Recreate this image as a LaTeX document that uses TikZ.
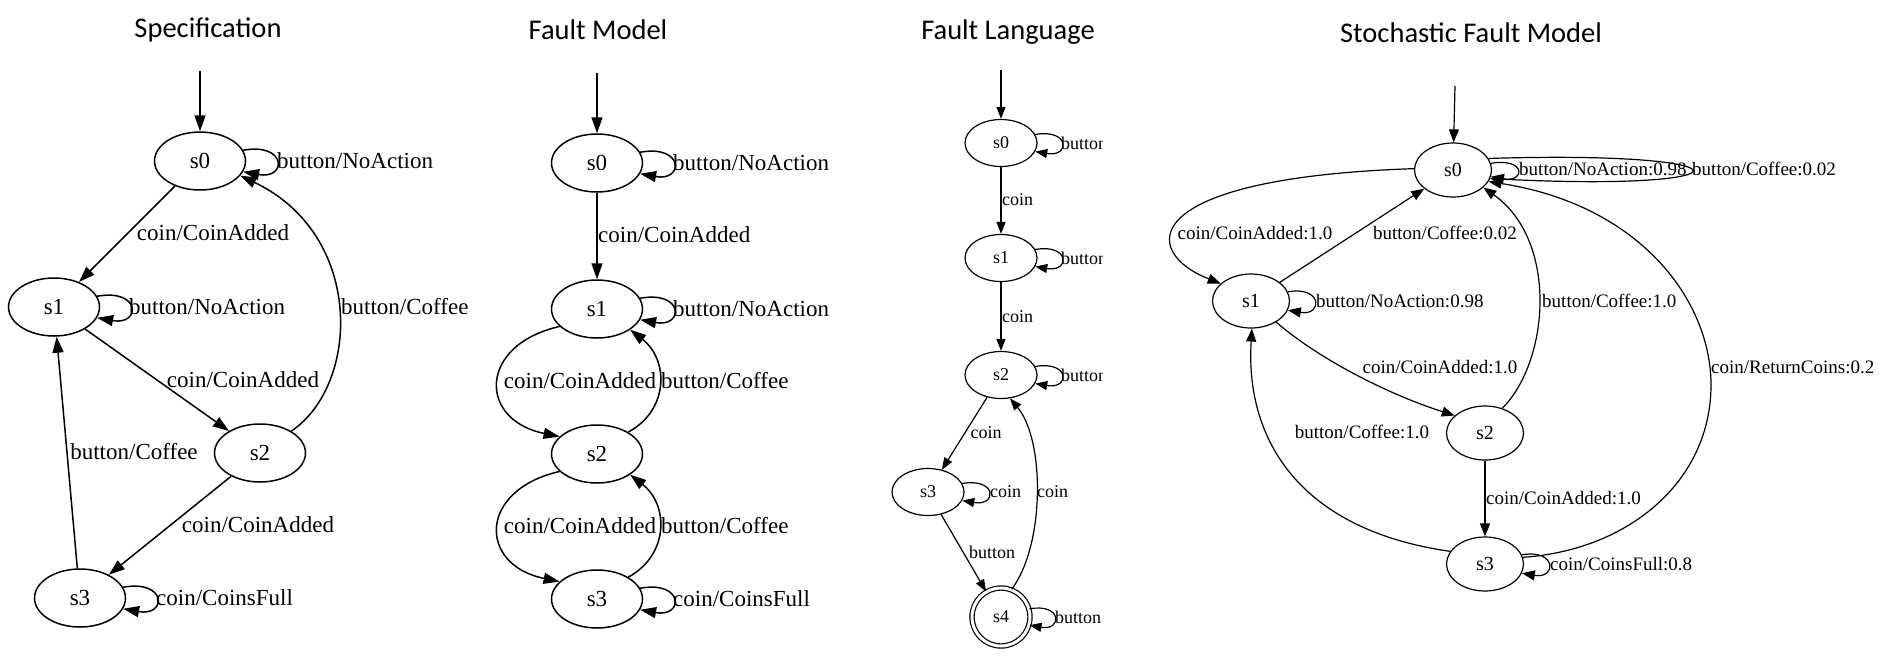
\documentclass[tikz,border=0pt]{standalone}
\usepackage{fontspec}
\setmainfont{Liberation Serif}
\newfontfamily\titlefont{Carlito}
\usetikzlibrary{arrows.meta,shapes.geometric}
\begin{document}
\begin{tikzpicture}[x=1pt,y=-1pt,
  title/.style={font=\titlefont\fontsize{28.5}{32}\selectfont,inner sep=0pt},
  stA/.style={draw,ellipse,line width=1.5pt,minimum width=91pt,minimum height=58pt,inner sep=0pt,font=\fontsize{23}{26}\selectfont},
  lblA/.style={inner sep=0pt,font=\fontsize{23}{26}\selectfont},
  eA/.style={line width=1.5pt,-{Triangle[length=16pt,width=11pt]}},
  stC/.style={draw,ellipse,line width=1.2pt,minimum width=72pt,minimum height=47pt,inner sep=0pt,font=\fontsize{18}{20}\selectfont},
  lblC/.style={inner sep=0pt,font=\fontsize{18}{20}\selectfont},
  eC/.style={line width=1.2pt,-{Triangle[length=12pt,width=9pt]}},
  stD/.style={draw,ellipse,line width=1.2pt,minimum width=77pt,minimum height=54pt,inner sep=0pt,font=\fontsize{20}{22}\selectfont},
  lblD/.style={inner sep=0pt,font=\fontsize{19}{21}\selectfont},
  eD/.style={line width=1.2pt,-{Triangle[length=13pt,width=10pt]}},
  pl/.style={line width=1.2pt}
]
\useasboundingbox (0,0) rectangle (1879,665);

% ================= Specification =================
\node[title] (a-t) at (208,30) {Specification};
\coordinate (a-i) at (200,71);
\node[stA] (a-s0) at (200,161) {s0};
\node[stA] (a-s1) at (54,307) {s1};
\node[stA] (a-s2) at (260,453) {s2};
\node[stA] (a-s3) at (80,598) {s3};
\draw[eA] (a-i) -- (a-s0);
\draw[eA] (a-s0.14) .. controls +(44,-8) and +(44,8) .. (a-s0.-14);
\draw[eA] (a-s0) -- (a-s1);
\draw[eA] (a-s1.14) .. controls +(44,-8) and +(44,8) .. (a-s1.-14);
\draw[eA] (a-s1) -- (a-s2);
\draw[eA] (a-s2.35) .. controls (360,385) and (365,235) .. (a-s0.-20);
\draw[eA] (a-s3) -- (a-s1);
\draw[eA] (a-s2) -- (a-s3);
\draw[eA] (a-s3.14) .. controls +(44,-8) and +(44,8) .. (a-s3.-14);
\node[lblA,anchor=west] (a-l0) at (277,161) {button/NoAction};
\node[lblA] (a-l01) at (213,233) {coin/CoinAdded};
\node[lblA,anchor=west] (a-l1) at (129,307) {button/NoAction};
\node[lblA] (a-l12) at (243,380) {coin/CoinAdded};
\node[lblA,anchor=west] (a-l20) at (341,307) {button/Coffee};
\node[lblA] (a-l31) at (134,452) {button/Coffee};
\node[lblA] (a-l23) at (258,525) {coin/CoinAdded};
\node[lblA,anchor=west] (a-l3) at (156,598) {coin/CoinsFull};

% ================= Fault Model =================
\node[title] (b-t) at (598,30) {Fault Model};
\coordinate (b-i) at (597,73);
\node[stA] (b-s0) at (597,163) {s0};
\node[stA] (b-s1) at (597,309) {s1};
\node[stA] (b-s2) at (597,454) {s2};
\node[stA] (b-s3) at (597,599) {s3};
\draw[eA] (b-i) -- (b-s0);
\draw[eA] (b-s0.14) .. controls +(44,-8) and +(44,8) .. (b-s0.-14);
\draw[eA] (b-s0) -- (b-s1);
\draw[eA] (b-s1.14) .. controls +(44,-8) and +(44,8) .. (b-s1.-14);
\draw[eA] (b-s1.205) .. controls (478,345) and (478,420) .. (b-s2.155);
\draw[eA] (b-s2.35) .. controls (669,410) and (669,360) .. (b-s1.-32);
\draw[eA] (b-s2.205) .. controls (478,490) and (478,565) .. (b-s3.155);
\draw[eA] (b-s3.35) .. controls (669,555) and (669,505) .. (b-s2.-32);
\draw[eA] (b-s3.14) .. controls +(44,-8) and +(44,8) .. (b-s3.-14);
\node[lblA,anchor=west] (b-l0) at (673,163) {button/NoAction};
\node[lblA,anchor=west] (b-l01) at (598,235) {coin/CoinAdded};
\node[lblA,anchor=west] (b-l1) at (673,309) {button/NoAction};
\node[lblA] (b-l12) at (580,381) {coin/CoinAdded};
\node[lblA,anchor=west] (b-l21) at (661,381) {button/Coffee};
\node[lblA] (b-l23) at (580,526) {coin/CoinAdded};
\node[lblA,anchor=west] (b-l32) at (661,526) {button/Coffee};
\node[lblA,anchor=west] (b-l3) at (673,599) {coin/CoinsFull};

% ================= Fault Language =================
\node[title] (c-t) at (1008,32) {Fault Language};
\coordinate (c-i) at (1001,70);
\node[stC] (c-s0) at (1001,143) {s0};
\node[stC] (c-s1) at (1001,258) {s1};
\node[stC] (c-s2) at (1001,375) {s2};
\node[stC] (c-s3) at (928,492) {s3};
\node[draw,circle,double,double distance=3pt,line width=1.2pt,minimum size=58pt,inner sep=0pt,font=\fontsize{18}{20}\selectfont] (c-s4) at (1001,617) {s4};
\draw[eC] (c-i) -- (c-s0);
\draw[eC] (c-s0.14) .. controls +(35,-6) and +(35,6) .. (c-s0.-14);
\draw[eC] (c-s1.14) .. controls +(35,-6) and +(35,6) .. (c-s1.-14);
\draw[eC] (c-s2.14) .. controls +(35,-6) and +(35,6) .. (c-s2.-14);
\draw[eC] (c-s3.14) .. controls +(35,-6) and +(35,6) .. (c-s3.-14);
\draw[eC] (c-s4.16) .. controls +(33,-6) and +(33,6) .. (c-s4.-16);
\draw[eC] (c-s0) -- (c-s1);
\draw[eC] (c-s1) -- (c-s2);
\draw[eC] (c-s2) -- (c-s3);
\draw[eC] (c-s3) -- (c-s4);
\draw[eC] (c-s4.69) .. controls (1045,545) and (1045,440) .. (c-s2.-69);
\begin{scope}
\clip (1040,100) rectangle (1102,400);
\node[lblC,anchor=west] (c-l0) at (1061,143) {button};
\node[lblC,anchor=west] (c-l1) at (1061,258) {button};
\node[lblC,anchor=west] (c-l2) at (1061,375) {button};
\end{scope}
\node[lblC,anchor=west] (c-l01) at (1002,200) {coin};
\node[lblC,anchor=west] (c-l12) at (1002,317) {coin};
\node[lblC] (c-l23) at (986,433) {coin};
\node[lblC,anchor=west] (c-l3) at (990,492) {coin};
\node[lblC,anchor=west] (c-l42) at (1037,492) {coin};
\node[lblC] (c-l34) at (992,552) {button};
\node[lblC,anchor=west] (c-l4) at (1055,617) {button};

% ================= Stochastic Fault Model =================
\node[title] (d-t) at (1471,33) {Stochastic Fault Model};
\coordinate (d-i) at (1455,86);
\node[stD] (d-s0) at (1453,170) {s0};
\node[stD] (d-s1) at (1251,301) {s1};
\node[stD] (d-s2) at (1485,433) {s2};
\node[stD] (d-s3) at (1485,564) {s3};
\draw[eD] (d-i) -- (d-s0);
\draw[eD] (d-s0.10) .. controls +(35,-6) and +(35,6) .. (d-s0.-10);
\draw[eD] (d-s0.18) .. controls (1759,150) and (1759,192) .. (d-s0.-13);
\draw[eD] (d-s0.178) .. controls (1135,178) and (1140,252) .. (d-s1.150);
\draw[eD] (d-s1) -- (d-s0);
\draw[eD] (d-s1.14) .. controls +(35,-6) and +(35,6) .. (d-s1.-14);
\draw[eD] (d-s1.-40) .. controls (1320,360) and (1390,395) .. (d-s2.150);
\draw[eD] (d-s2.55) .. controls (1550,360) and (1558,240) .. (d-s0.-30);
\draw[eD] (d-s3.10) .. controls (1630,550) and (1712,480) .. (1711,383) .. controls (1710,300) and (1640,205) .. (d-s0.-18);
\draw[eD] (d-s3.160) .. controls (1300,530) and (1245,440) .. (d-s1.-88);
\draw[eD] (d-s2) -- (d-s3);
\draw[eD] (d-s3.14) .. controls +(35,-6) and +(35,6) .. (d-s3.-14);
\node[lblD,anchor=west] (d-l0a) at (1519,169) {button/NoAction:0.98};
\node[lblD,anchor=west] (d-l0b) at (1692,169) {button/Coffee:0.02};
\node[lblD] (d-l01) at (1255,233) {coin/CoinAdded:1.0};
\node[lblD] (d-l10) at (1445,233) {button/Coffee:0.02};
\node[lblD,anchor=west] (d-l1) at (1316,301) {button/NoAction:0.98};
\node[lblD,anchor=west] (d-l20) at (1542,301) {button/Coffee:1.0};
\node[lblD] (d-l12) at (1440,367) {coin/CoinAdded:1.0};
\node[lblD,anchor=west] (d-l30) at (1711,367) {coin/ReturnCoins:0.2};
\node[lblD] (d-l31) at (1362,432) {button/Coffee:1.0};
\node[lblD,anchor=west] (d-l23) at (1486,498) {coin/CoinAdded:1.0};
\node[lblD,anchor=west] (d-l3) at (1550,564) {coin/CoinsFull:0.8};
\end{tikzpicture}
\end{document}
